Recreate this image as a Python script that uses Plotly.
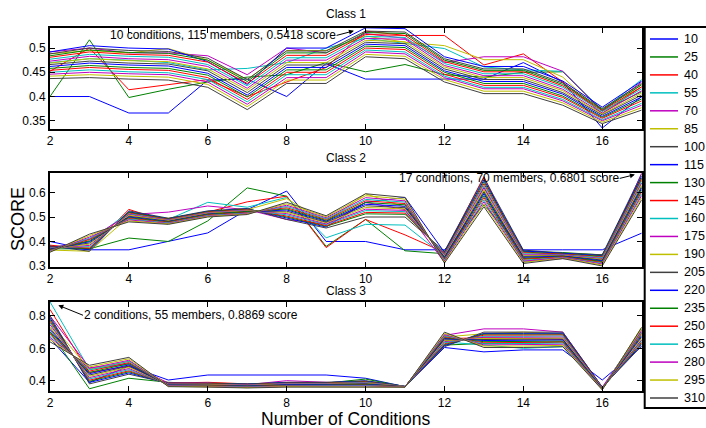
import plotly.graph_objects as go

# ---------------- data ----------------
conditions = list(range(2, 18))
members = [10, 25, 40, 55, 70, 85, 100, 115, 130, 145, 160, 175, 190, 205,
           220, 235, 250, 265, 280, 295, 310]
colors = ['#0000ff', '#008000', '#ff0000', '#00bfbf', '#bf00bf', '#bfbf00', '#404040']

class1_scores = [
    [.400, .400, .366, .366, .434, .436, .400, .468, .436, .436, .436, .436, .470, .430, .335, .400],
    [.400, .517, .398, .415, .430, .440, .445, .470, .451, .466, .445, .440, .450, .451, .370, .410],
    [.452, .500, .414, .425, .435, .400, .430, .460, .535, .526, .526, .465, .488, .430, .365, .420],
    [.470, .478, .475, .470, .455, .458, .470, .500, .520, .510, .499, .461, .455, .452, .372, .435],
    [.492, .500, .490, .490, .484, .445, .500, .490, .530, .520, .470, .482, .482, .452, .370, .430],
    [.488, .495, .490, .499, .475, .435, .495, .495, .525, .512, .505, .476, .476, .440, .365, .425],
    [.488, .500, .495, .493, .479, .435, .494, .494, .535, .533, .478, .457, .457, .428, .375, .427],
    [.492, .505, .500, .498, .472, .425, .500, .500, .5418, .540, .482, .462, .462, .432, .378, .432],
    [.484, .496, .491, .489, .475, .431, .490, .490, .532, .530, .475, .454, .454, .425, .373, .424],
    [.481, .492, .487, .485, .471, .427, .485, .485, .528, .526, .472, .451, .451, .422, .371, .420],
    [.477, .487, .483, .481, .466, .422, .480, .480, .524, .522, .468, .447, .447, .419, .369, .416],
    [.473, .483, .478, .476, .462, .417, .475, .475, .520, .518, .464, .443, .443, .415, .366, .412],
    [.469, .478, .474, .472, .457, .413, .470, .470, .516, .513, .461, .439, .439, .412, .364, .407],
    [.466, .473, .469, .467, .453, .408, .465, .465, .512, .509, .457, .435, .435, .408, .362, .403],
    [.462, .469, .465, .463, .448, .403, .460, .460, .508, .505, .453, .431, .431, .405, .359, .399],
    [.458, .464, .460, .458, .444, .399, .455, .455, .504, .501, .450, .427, .427, .401, .357, .395],
    [.454, .460, .456, .454, .439, .394, .450, .450, .500, .497, .446, .423, .423, .398, .355, .391],
    [.450, .455, .451, .449, .435, .389, .445, .445, .496, .492, .442, .419, .419, .394, .352, .386],
    [.446, .450, .447, .445, .430, .384, .439, .439, .492, .488, .439, .416, .416, .391, .350, .382],
    [.442, .445, .442, .440, .425, .379, .434, .434, .487, .483, .435, .411, .411, .387, .347, .377],
    [.437, .439, .436, .434, .419, .373, .427, .427, .482, .478, .430, .406, .406, .382, .344, .372],
]

class2_scores = [
    [.400, .366, .366, .400, .435, .530, .606, .400, .400, .366, .366, .550, .366, .366, .366, .434],
    [.370, .370, .414, .400, .484, .619, .585, .380, .490, .362, .350, .550, .360, .355, .345, .620],
    [.385, .370, .531, .480, .520, .562, .585, .375, .490, .427, .355, .665, .330, .340, .330, .660],
    [.375, .400, .520, .490, .560, .540, .580, .415, .470, .467, .340, .600, .315, .340, .330, .640],
    [.370, .410, .510, .520, .545, .530, .490, .470, .560, .530, .315, .620, .320, .330, .320, .6801],
    [.365, .360, .500, .495, .520, .530, .575, .480, .595, .540, .330, .610, .330, .335, .315, .650],
    [.382, .360, .525, .495, .525, .535, .490, .455, .500, .500, .360, .660, .365, .352, .346, .675],
    [.380, .366, .521, .493, .523, .533, .496, .459, .560, .580, .356, .651, .361, .350, .342, .667],
    [.378, .370, .519, .492, .522, .532, .500, .462, .513, .511, .353, .644, .357, .349, .340, .660],
    [.377, .374, .516, .490, .520, .530, .504, .465, .519, .516, .350, .636, .354, .348, .337, .654],
    [.375, .379, .513, .488, .518, .528, .509, .469, .526, .522, .347, .628, .350, .346, .334, .647],
    [.373, .384, .510, .487, .517, .527, .514, .472, .532, .527, .344, .620, .346, .345, .330, .639],
    [.371, .389, .507, .485, .515, .525, .519, .476, .539, .533, .340, .612, .342, .343, .327, .632],
    [.370, .394, .503, .483, .513, .523, .524, .479, .546, .538, .337, .603, .339, .341, .324, .625],
    [.368, .399, .500, .481, .511, .521, .529, .483, .552, .544, .334, .595, .335, .340, .321, .617],
    [.366, .403, .497, .480, .510, .520, .533, .486, .559, .550, .330, .587, .331, .338, .318, .610],
    [.364, .408, .494, .478, .508, .518, .538, .490, .566, .555, .327, .579, .327, .337, .314, .603],
    [.362, .413, .491, .476, .506, .516, .543, .493, .572, .561, .324, .570, .323, .335, .311, .595],
    [.360, .418, .488, .474, .504, .514, .548, .497, .579, .566, .320, .562, .319, .334, .308, .588],
    [.358, .424, .484, .472, .502, .512, .554, .501, .587, .573, .316, .553, .315, .332, .304, .579],
    [.356, .430, .480, .470, .500, .510, .560, .505, .595, .580, .312, .542, .310, .330, .300, .570],
]

class3_scores = [
    [.660, .390, .490, .404, .435, .435, .435, .435, .415, .363, .605, .578, .590, .590, .404, .610],
    [.700, .350, .415, .390, .380, .375, .380, .385, .410, .363, .620, .630, .630, .640, .350, .650],
    [.840, .450, .490, .385, .390, .380, .385, .380, .390, .363, .660, .665, .660, .655, .350, .700],
    [.8869, .470, .500, .380, .375, .370, .380, .375, .385, .363, .640, .620, .600, .610, .355, .720],
    [.800, .480, .505, .385, .385, .375, .400, .390, .380, .363, .680, .720, .720, .700, .360, .710],
    [.760, .470, .520, .375, .370, .365, .370, .372, .375, .363, .670, .690, .700, .690, .345, .730],
    [.800, .380, .440, .385, .385, .380, .390, .390, .400, .365, .610, .700, .700, .700, .360, .615],
    [.787, .389, .448, .383, .383, .378, .388, .388, .397, .365, .617, .692, .692, .693, .359, .624],
    [.778, .396, .455, .382, .382, .377, .386, .386, .394, .364, .623, .687, .687, .687, .358, .631],
    [.768, .403, .461, .381, .380, .375, .384, .384, .392, .364, .628, .681, .681, .682, .357, .638],
    [.757, .411, .468, .379, .378, .373, .382, .382, .389, .364, .634, .674, .674, .676, .355, .646],
    [.746, .419, .475, .378, .377, .372, .380, .380, .386, .363, .641, .668, .668, .669, .354, .654],
    [.734, .427, .483, .376, .375, .370, .378, .378, .384, .363, .647, .661, .661, .663, .353, .662],
    [.723, .435, .490, .374, .373, .368, .376, .376, .381, .363, .653, .654, .654, .657, .352, .670],
    [.712, .443, .497, .373, .371, .366, .374, .374, .378, .362, .660, .648, .648, .651, .351, .678],
    [.701, .451, .505, .371, .370, .365, .371, .371, .375, .362, .666, .641, .641, .644, .350, .686],
    [.690, .459, .512, .370, .368, .363, .369, .369, .372, .362, .672, .634, .634, .638, .348, .694],
    [.678, .467, .519, .368, .366, .361, .367, .367, .370, .361, .678, .628, .628, .632, .347, .702],
    [.667, .476, .526, .367, .364, .359, .365, .365, .367, .361, .685, .621, .621, .625, .346, .711],
    [.654, .485, .535, .365, .362, .357, .363, .363, .364, .360, .692, .614, .614, .618, .345, .720],
    [.640, .495, .544, .363, .360, .355, .360, .360, .360, .360, .700, .605, .605, .610, .343, .730],
]

class_titles = ['Class 1', 'Class 2', 'Class 3']
y_ranges = [[0.333, 0.542], [0.297, 0.681], [0.338, 0.888]]
y_ticks = [[0.35, 0.4, 0.45, 0.5], [0.3, 0.4, 0.5, 0.6], [0.4, 0.6, 0.8]]
x_ticks = [2, 4, 6, 8, 10, 12, 14, 16]

# ---------------- layout helpers (pixel -> paper) ----------------
W, H = 706, 428
def fx(p):
    return p / W
def fy(p):
    return 1 - p / H

FONT = 'Liberation Sans, Arial, Helvetica, sans-serif'
x_dom = [fx(50), fx(641.7)]
y_doms = [[fy(129), fy(27.7)], [fy(266.7), fy(172.7)], [fy(390.7), fy(301.7)]]
title_y = [14, 158.3, 291]

fig = go.Figure()
all_scores = [class1_scores, class2_scores, class3_scores]
for p, scores in enumerate(all_scores):
    xa = 'x' if p == 0 else 'x%d' % (p + 1)
    ya = 'y' if p == 0 else 'y%d' % (p + 1)
    for i, m in enumerate(members):
        fig.add_trace(go.Scatter(
            x=conditions, y=scores[i], mode='lines', name=str(m),
            line=dict(color=colors[i % len(colors)], width=1),
            xaxis=xa, yaxis=ya, showlegend=False, hoverinfo='skip'))

axis_common = dict(showline=True, linecolor='black', linewidth=2, mirror='ticks',
                   ticks='inside', ticklen=5, tickwidth=1, tickcolor='black',
                   showgrid=False, zeroline=False,
                   tickfont=dict(family=FONT, size=12, color='black'))
layout = {}
for p in range(3):
    xk = 'xaxis' if p == 0 else 'xaxis%d' % (p + 1)
    yk = 'yaxis' if p == 0 else 'yaxis%d' % (p + 1)
    ya = 'y' if p == 0 else 'y%d' % (p + 1)
    xa = 'x' if p == 0 else 'x%d' % (p + 1)
    layout[xk] = dict(axis_common, domain=x_dom, range=[2, 17], tickvals=x_ticks,
                      anchor=ya)
    layout[yk] = dict(axis_common, domain=y_doms[p], range=y_ranges[p],
                      tickvals=y_ticks[p], ticktext=[('%g' % v) for v in y_ticks[p]],
                      anchor=xa)

annotations = []
for p in range(3):
    annotations.append(dict(text=class_titles[p], xref='paper', yref='paper',
                            x=fx(345.9), y=fy(title_y[p]), showarrow=False,
                            xanchor='center', yanchor='middle',
                            font=dict(family=FONT, size=12, color='black')))
annotations.append(dict(text='SCORE', xref='paper', yref='paper', x=fx(17.5), y=fy(219.5),
                        textangle=-90, showarrow=False, xanchor='center', yanchor='middle',
                        font=dict(family=FONT, size=18, color='black')))
annotations.append(dict(text='Number of Conditions', xref='paper', yref='paper',
                        x=fx(345.5), y=fy(419), showarrow=False,
                        xanchor='center', yanchor='middle',
                        font=dict(family=FONT, size=17.5, color='black')))

# best-score call-outs
best = [(10, class1_scores[7][8], 'x', 'y', '10 conditions, 115 members, 0.5418 score', -29, 7.6, 'right', 12),
        (17, class2_scores[4][15], 'x2', 'y2', '17 conditions, 70 members, 0.6801 score', -22, 5.5, 'right', 7),
        (2, class3_scores[3][0], 'x3', 'y3', '2 conditions, 55 members, 0.8869 score', 33, 13.4, 'left', 9)]
for bx, by, xr, yr, txt, ax, ay, anc, so in best:
    annotations.append(dict(x=bx, y=by, xref=xr, yref=yr, text=txt, showarrow=True,
                            ax=ax, ay=ay, xanchor=anc, yanchor='middle',
                            arrowhead=2, arrowsize=1, arrowwidth=1, arrowcolor='black',
                            standoff=so, borderpad=0,
                            font=dict(family=FONT, size=12, color='black')))

# legend (drawn box with line samples)
shapes = [dict(type='rect', xref='paper', yref='paper', x0=fx(644.7), x1=1.05,
               y0=fy(408), y1=fy(27), line=dict(color='black', width=2),
               fillcolor='white', layer='below')]
for i, m in enumerate(members):
    yy = 39 + i * 17.95
    shapes.append(dict(type='line', xref='paper', yref='paper', x0=fx(650), x1=fx(678),
                       y0=fy(yy), y1=fy(yy),
                       line=dict(color=colors[i % len(colors)], width=1.5)))
    annotations.append(dict(text=str(m), xref='paper', yref='paper', x=fx(681.5), y=fy(yy),
                            showarrow=False, xanchor='left', yanchor='middle',
                            font=dict(family=FONT, size=12.5, color='black')))

fig.update_layout(width=W, height=H, margin=dict(l=0, r=0, t=0, b=0, autoexpand=False),
                  paper_bgcolor='white', plot_bgcolor='white', showlegend=False,
                  annotations=annotations, shapes=shapes, **layout)
fig.write_html('out.html')
